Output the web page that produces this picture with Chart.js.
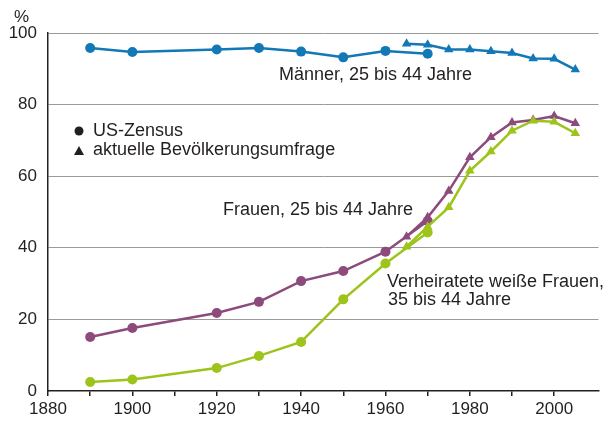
<!DOCTYPE html>
<html>
<head>
<meta charset="utf-8">
<script src="https://cdn.jsdelivr.net/npm/chart.js@4"></script>
<style>
  html, body { margin: 0; padding: 0; background: #fff; }
  #wrap { width: 604px; height: 421px; }
</style>
</head>
<body>
<div id="wrap"><canvas id="chart" width="604" height="421"></canvas></div>
<script>
// Erwerbsbeteiligung in %
const censusYears = [1890, 1900, 1920, 1930, 1940, 1950, 1960, 1970];
const surveyYears = [1965, 1970, 1975, 1980, 1985, 1990, 1995, 2000, 2005];

const menCensus = [95.8, 94.7, 95.4, 95.8, 94.8, 93.2, 95.0, 94.2];
const menSurvey = [97.0, 96.7, 95.4, 95.4, 94.9, 94.4, 92.9, 92.8, 89.8];

const womenCensus = [15.1, 17.6, 21.8, 24.9, 30.7, 33.5, 38.9, 47.5];
const womenSurvey = [43.1, 48.5, 55.9, 65.3, 70.9, 75.0, 75.7, 76.8, 74.8];

const wivesCensus = [2.5, 3.2, 6.4, 9.8, 13.7, 25.6, 35.6, 44.3];
const wivesSurvey = [40.3, 45.9, 51.3, 61.5, 66.9, 72.7, 75.5, 75.2, 72.0];

const xTicks = [1880, 1890, 1900, 1910, 1920, 1930, 1940, 1950, 1960, 1970, 1980, 1990, 2000];
const yTicks = [0, 20, 40, 60, 80, 100];

const BLUE = '#1278b6';
const PURPLE = '#8c4a7d';
const GREEN = '#9cc41a';
const INK = '#231f20';
const FONT = '"Liberation Sans", Arial, Helvetica, sans-serif';

const toPoints = (xs, ys) => xs.map((x, i) => ({ x: x, y: ys[i] }));

function series(label, xs, ys, color, style) {
  return {
    label: label,
    data: toPoints(xs, ys),
    borderColor: color,
    backgroundColor: color,
    borderWidth: 2.5,
    pointStyle: style,
    pointRadius: style === 'circle' ? 5 : 5.5,
    pointBorderWidth: 0,
    tension: 0
  };
}

// Beschriftungen direkt im Diagramm
const labelsPlugin = {
  id: 'labels',
  afterDraw(chart) {
    const ctx = chart.ctx;
    ctx.save();
    ctx.fillStyle = INK;
    ctx.textBaseline = 'middle';
    ctx.textAlign = 'left';
    ctx.font = '17px ' + FONT;
    ctx.fillText('%', 14, 17);

    ctx.font = '18px ' + FONT;
    ctx.fillText('Männer, 25 bis 44 Jahre', 279, 75);
    ctx.fillText('US-Zensus', 93, 131);
    ctx.fillText('aktuelle Bevölkerungsumfrage', 93, 150);
    ctx.fillText('Frauen, 25 bis 44 Jahre', 223, 210);
    ctx.fillText('Verheiratete weiße Frauen,', 387, 282);
    ctx.fillText('35 bis 44 Jahre', 388, 300);

    // Legendensymbole
    ctx.beginPath();
    ctx.arc(79, 131, 4.5, 0, Math.PI * 2);
    ctx.fill();
    ctx.beginPath();
    ctx.moveTo(79, 146);
    ctx.lineTo(84, 155);
    ctx.lineTo(74, 155);
    ctx.closePath();
    ctx.fill();
    ctx.restore();
  }
};

new Chart(document.getElementById('chart'), {
  type: 'line',
  data: {
    datasets: [
      series('wivesCensus', censusYears, wivesCensus, GREEN, 'circle'),
      series('wivesSurvey', surveyYears, wivesSurvey, GREEN, 'triangle'),
      series('womenCensus', censusYears, womenCensus, PURPLE, 'circle'),
      series('womenSurvey', surveyYears, womenSurvey, PURPLE, 'triangle'),
      series('menCensus', censusYears, menCensus, BLUE, 'circle'),
      series('menSurvey', surveyYears, menSurvey, BLUE, 'triangle')
    ]
  },
  options: {
    responsive: false,
    animation: false,
    layout: { padding: { top: 33, right: 1, left: 0, bottom: 0 } },
    plugins: {
      legend: { display: false },
      tooltip: { enabled: false }
    },
    scales: {
      x: {
        type: 'linear',
        min: 1880,
        max: 2010.5,
        afterBuildTicks(axis) { axis.ticks = xTicks.map(v => ({ value: v })); },
        afterFit(axis) { axis.height = 30; },
        border: { color: INK, width: 1.5 },
        grid: { drawOnChartArea: false, drawTicks: true, tickLength: 5, color: INK, lineWidth: 1.5 },
        ticks: {
          color: INK,
          font: { family: FONT, size: 17 },
          padding: 3,
          maxRotation: 0,
          autoSkip: false,
          callback: v => (v % 20 === 0 ? String(v) : '')
        }
      },
      y: {
        min: 0,
        max: 100,
        afterBuildTicks(axis) { axis.ticks = yTicks.map(v => ({ value: v })); },
        afterFit(axis) { axis.width = 48; },
        border: { color: INK, width: 1.5 },
        grid: {
          drawTicks: false,
          color: ctx => (ctx.tick && ctx.tick.value === 0 ? 'rgba(0,0,0,0)' : '#9a9a9a'),
          lineWidth: 1
        },
        ticks: {
          color: INK,
          font: { family: FONT, size: 17 },
          padding: 11
        }
      }
    }
  },
  plugins: [labelsPlugin]
});
</script>
</body>
</html>
